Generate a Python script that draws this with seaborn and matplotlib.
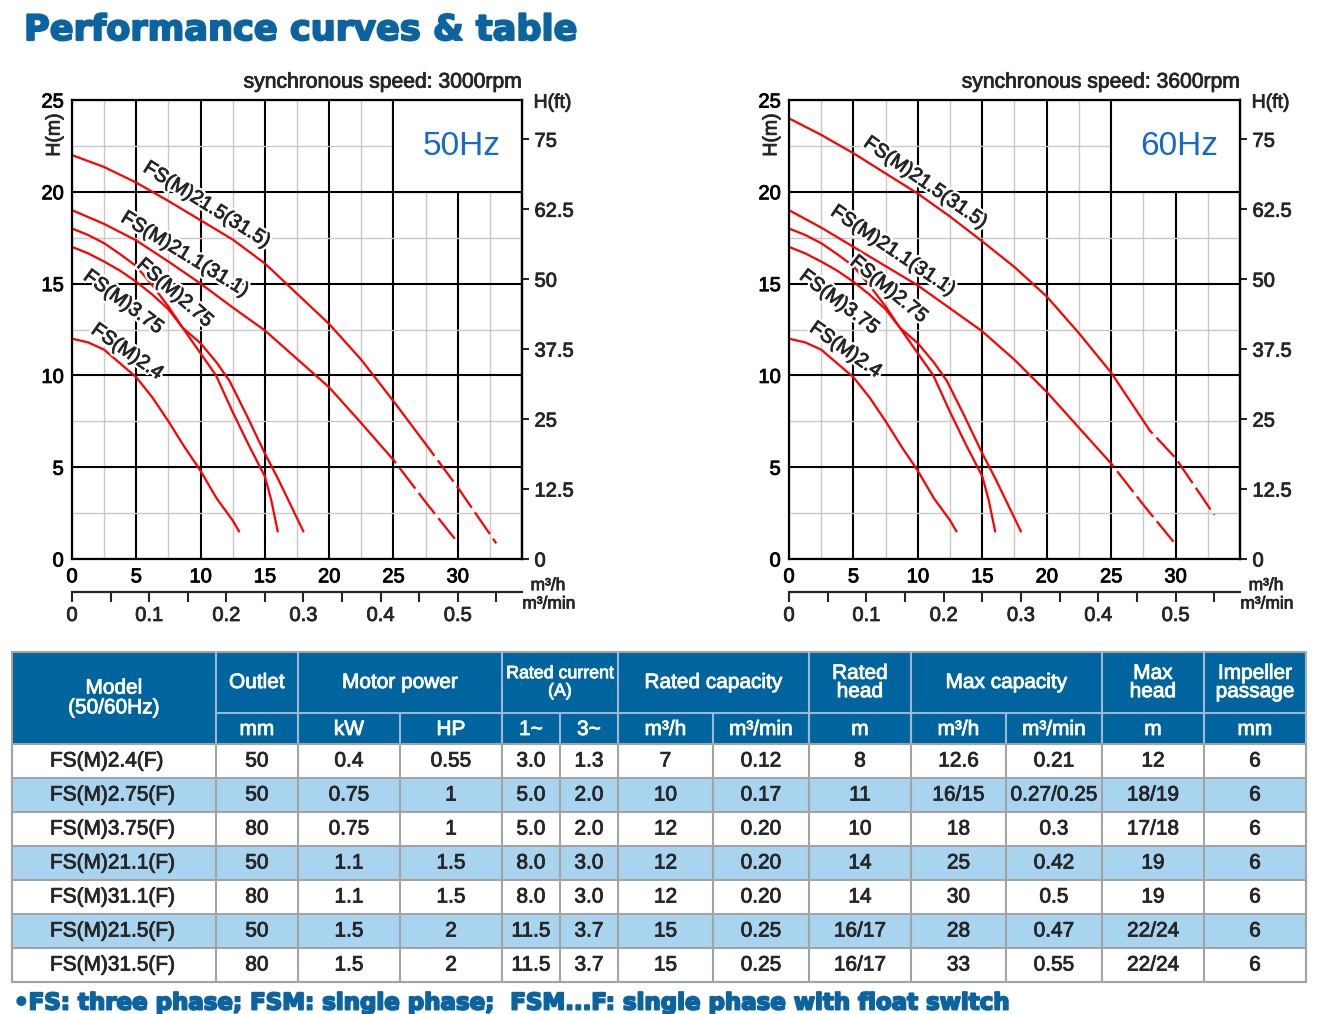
import numpy as np
import pandas as pd
import matplotlib
matplotlib.use("Agg")
import matplotlib.pyplot as plt
import matplotlib.patheffects as pe
from matplotlib.patches import Rectangle
from matplotlib.text import Text
import seaborn as sns

# =====================================
# DATA
# =====================================

# pump curves: flow in m3/h, head in m
flow_24 = [0, 1.25, 2.5, 3.75, 5, 6.25, 7.5, 8.75, 10, 11.25, 12.5, 13]
head_24 = [12, 11.8, 11.4, 10.65, 9.9, 8.8, 7.5, 6.1, 4.8, 3.3, 2.1, 1.5]

flow_275 = [0, 1.25, 2.5, 3.75, 5, 6.25, 7.5, 8.6, 10, 11.2, 12.5, 13.75, 15, 15.5, 16]
head_275 = [18, 17.65, 17.2, 16.6, 15.95, 14.9, 13.75, 12.6, 11.2, 10, 8.0, 6.2, 4.5, 3.2, 1.5]

flow_375 = [0, 1.25, 2.5, 3.75, 5, 6.25, 7.5, 8.6, 10, 11.25, 12.25, 13.5, 15, 16, 17, 18]
head_375 = [17, 16.65, 16.2, 15.7, 15.1, 14.4, 13.6, 12.6, 11.75, 10.7, 9.7, 7.95, 5.75, 4.4, 2.95, 1.5]

flow_211 = [0, 2.5, 5, 7.5, 10, 12.5, 15, 17.5, 20, 22.5, 25, 27.5, 30]
head_211_50 = [19, 18.25, 17.35, 16.2, 15.0, 13.7, 12.45, 10.9, 9.35, 7.4, 5.4, 3.1, 0.9]
head_211_60 = [19, 18.05, 17.0, 15.95, 14.9, 13.65, 12.4, 10.85, 9.1, 7.15, 5.2, 2.95, 0.8]

flow_215 = [0, 2.5, 5, 7.5, 10, 12.5, 15, 17.5, 20, 22.5, 25, 28, 30, 33]
head_215_50 = [22.0, 21.35, 20.5, 19.5, 18.45, 17.4, 16.1, 14.45, 12.8, 10.85, 8.6, 5.8, 3.9, 0.85]
head_215_60 = [24.0, 23.1, 22.1, 21.0, 19.9, 18.65, 17.3, 15.9, 14.3, 12.3, 10.15, 7.0, 5.5, 2.4]

# table
models = ["FS(M)2.4(F)", "FS(M)2.75(F)", "FS(M)3.75(F)", "FS(M)21.1(F)",
          "FS(M)31.1(F)", "FS(M)21.5(F)", "FS(M)31.5(F)"]
outlet = ["50", "50", "80", "50", "80", "50", "80"]
power_kw = ["0.4", "0.75", "0.75", "1.1", "1.1", "1.5", "1.5"]
power_hp = ["0.55", "1", "1", "1.5", "1.5", "2", "2"]
current_1ph = ["3.0", "5.0", "5.0", "8.0", "8.0", "11.5", "11.5"]
current_3ph = ["1.3", "2.0", "2.0", "3.0", "3.0", "3.7", "3.7"]
rated_m3h = ["7", "10", "12", "12", "12", "15", "15"]
rated_m3min = ["0.12", "0.17", "0.20", "0.20", "0.20", "0.25", "0.25"]
rated_head = ["8", "11", "10", "14", "14", "16/17", "16/17"]
max_m3h = ["12.6", "16/15", "18", "25", "30", "28", "33"]
max_m3min = ["0.21", "0.27/0.25", "0.3", "0.42", "0.5", "0.47", "0.55"]
max_head = ["12", "18/19", "17/18", "19", "19", "22/24", "22/24"]
impeller = ["6", "6", "6", "6", "6", "6", "6"]

header_top = ["Model\n(50/60Hz)", "Outlet", "Motor power", "Rated current\n(A)",
              "Rated capacity", "Rated\nhead", "Max capacity", "Max\nhead", "Impeller\npassage"]
header_units = ["mm", "kW", "HP", "1~", "3~", "m³/h", "m³/min", "m", "m³/h", "m³/min", "m", "mm"]

ft_ticks = [0, 12.5, 25, 37.5, 50, 62.5, 75]

# =====================================
# STYLE
# =====================================

sns.set_theme(style="white")
plt.rcParams["font.family"] = ["Liberation Sans", "DejaVu Sans"]
plt.rcParams["lines.scale_dashes"] = False

RED = "#ff0000"
BLUE_TXT = "#0b64a0"
HEAD_BG = "#00649f"
ROW_BLUE = "#a9d4ef"
CELL_LINE = "#a3a3a3"

W, H = 1327, 1014
fig = plt.figure(figsize=(W / 100, H / 100), dpi=100)
fig.patch.set_facecolor("white")

ax_bg = fig.add_axes([0, 0, 1, 1])
ax_bg.set_xlim(0, W)
ax_bg.set_ylim(H, 0)
ax_bg.axis("off")


def px_axes(x0, y0, x1, y1):
    return fig.add_axes([x0 / W, 1 - y1 / H, (x1 - x0) / W, (y1 - y0) / H])


# =====================================
# CURVE PANELS
# =====================================

def draw_panel(ax, curves, labels, freq_text, speed_text):
    for flow, head, dash_from in curves:
        df = pd.DataFrame({"flow": flow, "head": head})
        solid = df if dash_from is None else df[df["flow"] <= dash_from]
        sns.lineplot(data=solid, x="flow", y="head", color=RED, lw=1.6,
                     sort=False, estimator=None, ax=ax, zorder=2)
        if dash_from is not None:
            dashed = df[df["flow"] >= dash_from]
            sns.lineplot(data=dashed, x="flow", y="head", color=RED, lw=1.6,
                         linestyle=(16, (19, 4)), sort=False, estimator=None,
                         ax=ax, zorder=2)

    ax.set_xlim(0, 35)
    ax.set_ylim(0, 25)
    ax.set_xlabel("")
    ax.set_ylabel("")
    ax.set_xticks(np.arange(0, 36, 5))
    ax.set_xticklabels([str(v) for v in range(0, 31, 5)] + [""])
    ax.set_yticks(np.arange(0, 26, 5))
    ax.set_xticks(np.arange(0, 35.1, 2.5), minor=True)
    ax.set_yticks(np.arange(0, 25.1, 2.5), minor=True)
    ax.grid(which="minor", color="#c9c9c9", lw=1.0)
    ax.grid(which="major", color="black", lw=1.5)
    ax.set_axisbelow(True)
    ax.tick_params(which="both", length=0, labelsize=14.5, pad=6, colors="black")
    for sp in ax.spines.values():
        sp.set_visible(True)
        sp.set_color("black")
        sp.set_linewidth(1.6)

    # white corner box with the frequency
    ax.add_patch(Rectangle((25, 20), 10, 5, facecolor="white", edgecolor="black",
                           lw=1.5, zorder=1))
    ax.text(30.3, 22.45, freq_text, color="#1469cc", fontsize=24,
            ha="center", va="center", zorder=3, gid="plain")

    for txt, x, y, rot in labels:
        ax.text(x, y, txt, rotation=rot, rotation_mode="anchor", ha="center",
                va="center", fontsize=14.3, zorder=3, gid="curve_label")

    # head in feet on the right
    sec_y = ax.secondary_yaxis("right", functions=(lambda m: m * 3.2808,
                                                    lambda f: f / 3.2808))
    sec_y.set_yticks(ft_ticks)
    sec_y.set_yticklabels(["0", "12.5", "25", "37.5", "50", "62.5", "75"])
    sec_y.tick_params(direction="out", length=5, width=1.5, labelsize=14.5, pad=4)
    sec_y.spines["right"].set_linewidth(1.6)

    # flow in m3/min underneath
    sec_x = ax.secondary_xaxis(-0.072, functions=(lambda q: q / 60, lambda q: q * 60))
    sec_x.set_xticks(np.arange(0, 0.51, 0.1))
    sec_x.set_xticklabels(["0", "0.1", "0.2", "0.3", "0.4", "0.5"])
    sec_x.set_xticks(np.arange(0.05, 0.56, 0.1), minor=True)
    sec_x.tick_params(which="both", direction="out", length=7, width=1.5,
                      labelsize=14.5, pad=3)
    for sp in sec_x.spines.values():
        sp.set_linewidth(1.6)

    ax.text(-0.038, 0.924, "H(m)", rotation=90, transform=ax.transAxes,
            ha="center", va="center", fontsize=14)
    ax.text(1.068, 0.993, "H(ft)", transform=ax.transAxes,
            ha="center", va="center", fontsize=14)
    ax.text(1.0, 1.039, speed_text, transform=ax.transAxes,
            ha="right", va="center", fontsize=15.2)
    ax.text(1.058, -0.058, "m³/h", transform=ax.transAxes,
            ha="center", va="center", fontsize=12.5)
    ax.text(1.06, -0.098, "m³/min", transform=ax.transAxes,
            ha="center", va="center", fontsize=12.5)


curves_50 = [(flow_24, head_24, None), (flow_275, head_275, None),
             (flow_375, head_375, None), (flow_211, head_211_50, 25),
             (flow_215, head_215_50, 28)]
curves_60 = [(flow_24, head_24, None), (flow_275, head_275, None),
             (flow_375, head_375, None), (flow_211, head_211_60, 25),
             (flow_215, head_215_60, 28)]

labels_50 = [("FS(M)21.5(31.5)", 10.5, 19.3, -32), ("FS(M)21.1(31.1)", 8.8, 16.6, -31.5),
             ("FS(M)2.75", 8.0, 14.5, -41), ("FS(M)3.75", 4.0, 14.0, -36.5),
             ("FS(M)2.4", 4.3, 11.3, -35)]
labels_60 = [("FS(M)21.5(31.5)", 10.6, 20.5, -35), ("FS(M)21.1(31.1)", 8.1, 16.8, -34),
             ("FS(M)2.75", 7.75, 14.7, -39.5), ("FS(M)3.75", 3.9, 14.0, -37),
             ("FS(M)2.4", 4.4, 11.4, -35)]

ax50 = px_axes(72, 100, 522, 559)
ax60 = px_axes(789, 100, 1240, 559)
draw_panel(ax50, curves_50, labels_50, "50Hz", "synchronous speed: 3000rpm")
draw_panel(ax60, curves_60, labels_60, "60Hz", "synchronous speed: 3600rpm")

# =====================================
# TITLE, TABLE, FOOTNOTE
# =====================================

ax_bg.text(24, 30, "Performance curves & table", fontsize=25.3, fontweight="bold",
           family="DejaVu Sans", color=BLUE_TXT, ha="left", va="center", gid="heavy")

col_x = [12, 216, 298, 400, 502, 560, 618, 713, 809, 911, 1006, 1102, 1204, 1306]
row_y = [652, 713, 744, 778, 812, 846, 880, 914, 948, 982]
group_cols = [(0, 1), (1, 2), (2, 4), (4, 6), (6, 8), (8, 9), (9, 11), (11, 12), (12, 13)]

# header block
ax_bg.add_patch(Rectangle((col_x[0], row_y[0]), col_x[-1] - col_x[0], row_y[2] - row_y[0],
                          facecolor=HEAD_BG, edgecolor="none"))
sep = "#9fb8cc"
for c0, c1 in group_cols:
    ax_bg.plot([col_x[c1], col_x[c1]], [row_y[0], row_y[2]], color=sep, lw=1.5)
for c in range(2, len(col_x) - 1):
    ax_bg.plot([col_x[c], col_x[c]], [row_y[1], row_y[2]], color=sep, lw=1.5)
ax_bg.plot([col_x[1], col_x[-1]], [row_y[1], row_y[1]], color=sep, lw=1.5)

for (c0, c1), txt in zip(group_cols, header_top):
    cx = (col_x[c0] + col_x[c1]) / 2
    if c0 == 0:
        ax_bg.text(cx, (row_y[0] + row_y[2]) / 2, txt, color="white", fontsize=15,
                   ha="center", va="center", linespacing=1.05)
    elif "current" in txt:
        ax_bg.text(cx, (row_y[0] + row_y[1]) / 2, txt, color="white", fontsize=12.8,
                   ha="center", va="center", linespacing=1.05)
    else:
        ax_bg.text(cx, (row_y[0] + row_y[1]) / 2, txt, color="white", fontsize=15,
                   ha="center", va="center", linespacing=0.95)

for c, unit in enumerate(header_units, start=1):
    ax_bg.text((col_x[c] + col_x[c + 1]) / 2, (row_y[1] + row_y[2]) / 2 + 1, unit,
               color="white", fontsize=15, ha="center", va="center")

# body rows
columns = [models, outlet, power_kw, power_hp, current_1ph, current_3ph, rated_m3h,
           rated_m3min, rated_head, max_m3h, max_m3min, max_head, impeller]
for r in range(len(models)):
    y0, y1 = row_y[r + 2], row_y[r + 3]
    ax_bg.add_patch(Rectangle((col_x[0], y0), col_x[-1] - col_x[0], y1 - y0,
                              facecolor=ROW_BLUE if r % 2 else "white", edgecolor="none"))
    for c, col in enumerate(columns):
        if c == 0:
            ax_bg.text(50, (y0 + y1) / 2, col[r], fontsize=15, ha="left", va="center")
        else:
            ax_bg.text((col_x[c] + col_x[c + 1]) / 2, (y0 + y1) / 2, col[r],
                       fontsize=15, ha="center", va="center")

for y in row_y[2:]:
    ax_bg.plot([col_x[0], col_x[-1]], [y, y], color=CELL_LINE, lw=1.5)
for x in col_x:
    ax_bg.plot([x, x], [row_y[2], row_y[-1]], color=CELL_LINE, lw=1.5)
ax_bg.add_patch(Rectangle((col_x[0], row_y[0]), col_x[-1] - col_x[0], row_y[-1] - row_y[0],
                          facecolor="none", edgecolor=CELL_LINE, lw=1.5))

ax_bg.text(14, 1003, "•FS: three phase; FSM: single phase;  FSM...F: single phase with float switch",
           fontsize=16.5, fontweight="bold", family="DejaVu Sans", color=BLUE_TXT,
           ha="left", va="center", gid="heavy")

# the reference type is a touch heavier than Liberation Sans: thicken all text a bit
for t in fig.findobj(Text):
    if not t.get_text():
        continue
    gid = t.get_gid()
    col = t.get_color()
    if gid == "plain":
        continue
    if gid == "heavy":
        t.set_path_effects([pe.Stroke(linewidth=1.4, foreground=col), pe.Normal()])
    elif gid == "curve_label":
        t.set_path_effects([pe.Stroke(linewidth=4, foreground="white"),
                            pe.Stroke(linewidth=0.6, foreground=col), pe.Normal()])
    else:
        t.set_path_effects([pe.Stroke(linewidth=0.6, foreground=col), pe.Normal()])

fig.savefig("out.png", dpi=100)
